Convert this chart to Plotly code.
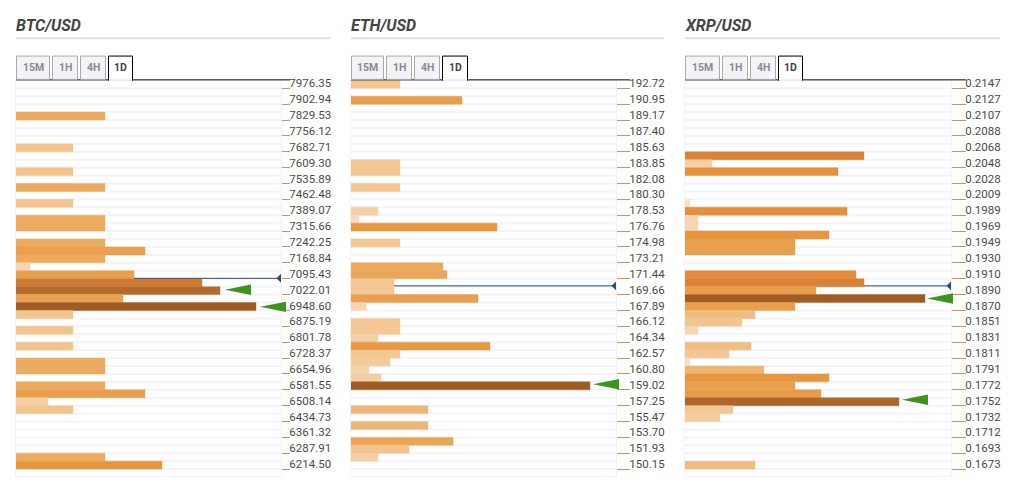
import plotly.graph_objects as go

WIDTH = 1017
HEIGHT = 484
ROWS = 50

pairs = ["BTC/USD", "ETH/USD", "XRP/USD"]
tabs = ["15M", "1H", "4H", "1D"]

btc_levels = ["7976.35", "7902.94", "7829.53", "7756.12", "7682.71", "7609.30", "7535.89", "7462.48", "7389.07",
              "7315.66", "7242.25", "7168.84", "7095.43", "7022.01", "6948.60", "6875.19", "6801.78", "6728.37",
              "6654.96", "6581.55", "6508.14", "6434.73", "6361.32", "6287.91", "6214.50"]
eth_levels = ["192.72", "190.95", "189.17", "187.40", "185.63", "183.85", "182.08", "180.30", "178.53",
              "176.76", "174.98", "173.21", "171.44", "169.66", "167.89", "166.12", "164.34", "162.57",
              "160.80", "159.02", "157.25", "155.47", "153.70", "151.93", "150.15"]
xrp_levels = ["0.2147", "0.2127", "0.2107", "0.2088", "0.2068", "0.2048", "0.2028", "0.2009", "0.1989",
              "0.1969", "0.1949", "0.1930", "0.1910", "0.1890", "0.1870", "0.1851", "0.1831", "0.1811",
              "0.1791", "0.1772", "0.1752", "0.1732", "0.1712", "0.1693", "0.1673"]

btc_rows = [4, 8, 11, 13, 15, 17, 18, 20, 21, 22, 23, 24, 25, 26, 27, 28, 29, 31, 33, 35, 36, 38, 39, 40, 41, 47, 48]
btc_values = [89, 57, 57, 89, 57, 89, 89, 89, 129, 89, 14, 118, 186, 204, 107, 240, 57, 57, 57, 89, 89, 89, 129, 32, 57, 89, 146]

eth_rows = [0, 2, 10, 11, 13, 16, 17, 18, 20, 23, 24, 25, 26, 27, 28, 30, 31, 32, 33, 34, 35, 36, 37, 38, 41, 43, 45, 46, 47]
eth_values = [49, 111, 49, 49, 49, 27, 8, 146, 49, 92, 96, 43, 43, 127, 15, 49, 49, 27, 139, 49, 39, 18, 30, 239, 77, 77, 102, 58, 27]

xrp_rows = [9, 10, 11, 15, 16, 17, 18, 19, 20, 21, 24, 25, 26, 27, 28, 29, 30, 31, 33, 34, 35, 36, 37, 38, 39, 40, 41, 42, 48]
xrp_values = [179, 27, 153, 5, 162, 13, 13, 144, 110, 110, 171, 179, 131, 240, 110, 70, 57, 13, 66, 44, 5, 79, 144, 110, 136, 214, 48, 35, 70]

price_rows = [24.45, 25.4, 25.4]
price_starts = [118, 43, 179]

btc_arrows = [(25.9, 209), (28.05, 244)]
eth_arrows = [(37.8, 242)]
xrp_arrows = [(27.0, 242), (39.75, 217)]

colorscale = [
    [0.0, "#fbe8d6"], [0.05, "#f6d6b2"], [0.18, "#f3c896"], [0.24, "#f3c48d"], [0.32, "#eeb779"],
    [0.37, "#ecab5f"], [0.46, "#e8a04c"], [0.54, "#e99f4d"], [0.61, "#e8953c"], [0.72, "#e38a3a"],
    [0.78, "#cb7a32"], [0.85, "#b36a2b"], [1.0, "#a05c22"],
]

# pixel layout of each panel: left, right, end of rule, tick end, tab boxes
panels = [
    dict(left=16, right=281, rule=330, tick_end=290, tabs=[(16, 50), (52, 78), (80, 106), (108, 133)]),
    dict(left=351, right=616, rule=664, tick_end=630, tabs=[(351, 384), (386, 412), (414, 440), (442, 468)]),
    dict(left=685, right=951, rule=1000, tick_end=966, tabs=[(685, 720), (722, 748), (750, 776), (778, 803)]),
]


def px(x):
    return x / WIDTH


def py(y):
    return 1 - (y - 1) / HEIGHT


def triangle(axis, span, tip, row, width, height, color):
    # left pointing triangle, x given in bar units, y in rows
    row_h = height / 8 / 2
    path = "M %f %f L %f %f L %f %f Z" % (tip / span, row, (tip + width) / span, row - row_h, (tip + width) / span, row + row_h)
    return dict(type="path", path=path, xref=axis + " domain", yref=axis.replace("x", "y"),
                fillcolor=color, line=dict(width=0), layer="above")


fig = go.Figure()
shapes = []
annotations = []
series = [(btc_levels, btc_rows, btc_values, btc_arrows),
          (eth_levels, eth_rows, eth_values, eth_arrows),
          (xrp_levels, xrp_rows, xrp_values, xrp_arrows)]

for i, (levels, rows, values, arrows) in enumerate(series):
    panel = panels[i]
    suffix = "" if i == 0 else str(i + 1)
    xname = "x" + suffix
    yname = "y" + suffix
    span = panel["right"] - panel["left"]

    # thin outline in the bar's own colour so touching bars leave no seam
    fig.add_trace(go.Bar(x=values, y=rows, orientation="h", width=1, xaxis=xname, yaxis=yname,
                         marker=dict(color=values, colorscale=colorscale, cmin=0, cmax=240,
                                     line=dict(color=values, colorscale=colorscale, cmin=0, cmax=240, width=0.4)),
                         hoverinfo="x+y", showlegend=False))
    fig.add_trace(go.Scatter(x=[price_starts[i], span], y=[price_rows[i], price_rows[i]], mode="lines",
                             xaxis=xname, yaxis=yname, line=dict(color="#2c4a72", width=1),
                             hoverinfo="skip", showlegend=False))

    tick_len = panel["tick_end"] - panel["right"]
    label_rows = [k * 2 for k in range(len(levels))]
    fig.update_layout({
        "xaxis" + suffix: dict(domain=[px(panel["left"]), px(panel["right"])], range=[0, span], anchor=yname, visible=False),
        "yaxis" + suffix: dict(domain=[py(478), py(78)], range=[ROWS - 0.5, -0.5], anchor=xname, side="right",
                               tickvals=label_rows, ticktext=levels, ticks="outside", ticklen=tick_len - 4,
                               tickcolor="rgba(0,0,0,0)", showgrid=False, zeroline=False, ticklabelshift=1,
                               showline=True, mirror=True, linecolor="#f1f1f7", linewidth=1, layer="below traces",
                               tickfont=dict(family="Roboto", size=11.5, color="#4a4a4a"),
                               minor=dict(tickvals=[r + 0.5 for r in label_rows], ticks="outside", ticklen=tick_len - 1,
                                          tickcolor="#dd8f4c", tickwidth=1, showgrid=False)),
    })

    # row stripes
    for k in range(ROWS):
        shapes.append(dict(type="line", xref=xname + " domain", yref=yname, x0=0, x1=1, y0=k + 0.5, y1=k + 0.5,
                           line=dict(color="#f3f3f9", width=2), layer="below"))

    for row, tip in arrows:
        shapes.append(triangle(xname, span, tip, row, 26, 10.5, "#3f931f"))
    shapes.append(triangle(xname, span, span - 4.5, price_rows[i], 4.5, 9, "#2c4a72"))

    # title and rule
    annotations.append(dict(text="<b><i>%s</i></b>" % pairs[i], xref="paper", yref="paper", x=px(panel["left"] - 2), y=py(22.5),
                            xanchor="left", yanchor="middle", showarrow=False,
                            font=dict(family="Roboto", size=16, color="#444444")))
    shapes.append(dict(type="line", xref="paper", yref="paper", x0=px(panel["left"]), x1=px(panel["rule"]),
                       y0=py(35.5), y1=py(35.5), line=dict(color="#dddddd", width=2)))

    # tab strip
    shapes.append(dict(type="line", xref="paper", yref="paper", x0=px(panel["left"]), x1=px(panel["tick_end"]),
                       y0=py(77.5), y1=py(77.5), line=dict(color="#000000", width=1)))
    for j, name in enumerate(tabs):
        x0, x1 = panel["tabs"][j]
        active = name == "1D"
        shapes.append(dict(type="rect", xref="paper", yref="paper", x0=px(x0 + 0.5), x1=px(x1 - 0.5), y0=py(53.5),
                           y1=py(78 if active else 77), fillcolor="#ffffff" if active else "#f3f3f8",
                           line=dict(color="#000000" if active else "#aaaaaa", width=1)))
        if active:
            shapes.append(dict(type="line", xref="paper", yref="paper", x0=px(x0 + 1), x1=px(x1 - 1),
                               y0=py(77.8), y1=py(77.8), line=dict(color="#ffffff", width=1.5)))
        annotations.append(dict(text="<b>%s</b>" % name, xref="paper", yref="paper", x=px((x0 + x1) / 2), y=py(65),
                                xanchor="center", yanchor="middle", showarrow=False,
                                font=dict(family="Roboto", size=10.5, color="#444444" if active else "#8a8a90")))

fig.update_layout(width=WIDTH, height=HEIGHT, margin=dict(l=0, r=0, t=0, b=0), autosize=False,
                  paper_bgcolor="#ffffff", plot_bgcolor="#ffffff", showlegend=False, barmode="overlay",
                  shapes=shapes, annotations=annotations)

fig.write_html("out.html", config=dict(displayModeBar=False),
               post_script="document.body.style.margin='0';document.body.style.overflow='hidden';"
                           "var g=document.getElementById('{plot_id}');g.style.position='fixed';g.style.left='0';g.style.top='0';")
